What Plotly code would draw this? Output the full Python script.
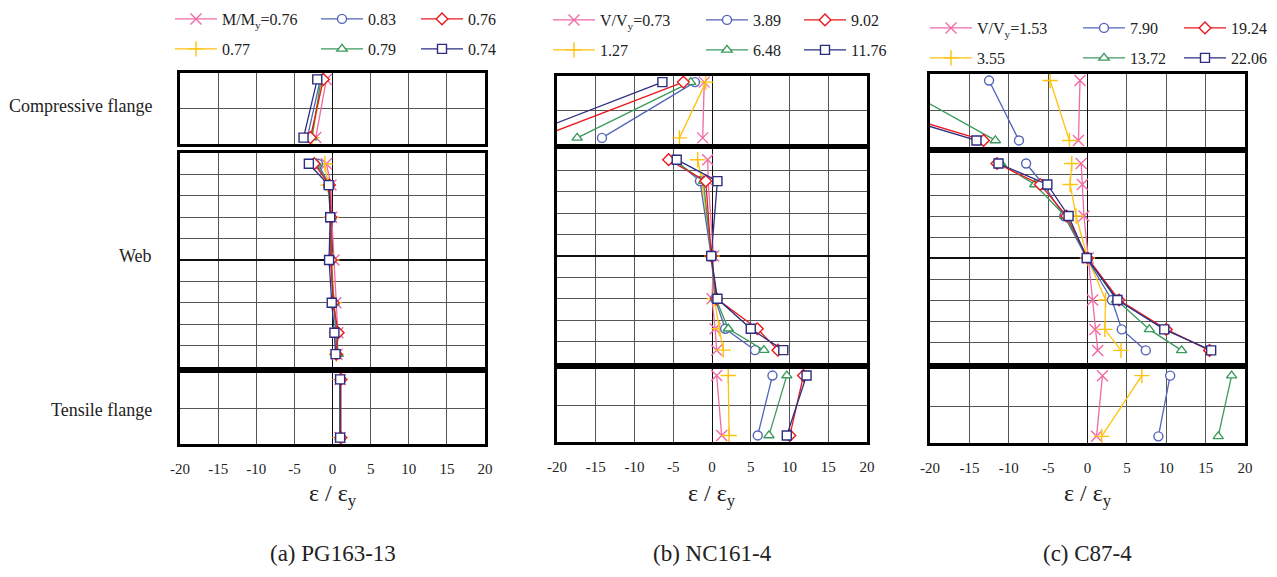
import plotly.graph_objects as go

# ---------------- data ----------------
WEB_Y = [4.5, 3.5, 2, 0, -2, -3.4, -4.4]
FLANGE_Y = [1.82, 0.18]

COLORS = ["#F06AA6", "#FFC20E", "#5264B8", "#3A9A5C", "#E8191E", "#2B2D80"]
SYMBOLS = ["x-thin", "cross-thin", "circle", "triangle-up", "diamond", "square"]

# panel (a) PG163-13
A_LABELS = ["M/M<sub>y</sub>=0.76", "0.77", "0.83", "0.79", "0.76", "0.74"]
A_COMP = [[-0.8, -2.2], [-1.3, -2.7], [-1.6, -3.3], [-1.5, -2.7], [-1.2, -2.9], [-2.0, -3.8]]
A_WEB = [[-0.8, -0.2, -0.1, 0.2, 0.45, 0.7, 0.6],
         [-1.0, -0.6, -0.2, -0.1, 0.2, 0.5, 0.5],
         [-1.9, -0.4, -0.2, -0.2, 0.1, 0.5, 0.5],
         [-2.1, -0.5, -0.2, -0.2, 0.2, 0.55, 0.75],
         [-2.4, -0.4, -0.2, -0.2, 0.1, 0.75, 0.5],
         [-3.1, -0.5, -0.3, -0.45, -0.1, 0.25, 0.4]]
A_TENS = [[1.0, 1.0], [1.0, 1.0], [1.0, 1.0], [1.0, 1.0], [1.1, 1.1], [1.0, 1.0]]

# panel (b) NC161-4
B_LABELS = ["V/V<sub>y</sub>=0.73", "1.27", "3.89", "6.48", "9.02", "11.76"]
B_COMP = [[-1.0, -1.2], [-0.8, -4.2], [-2.2, -14.2], [-2.75, -17.4], [-3.7, -22.5], [-6.4, -25.0]]
B_WEB = [[-0.55, -0.5, None, 0.2, 0.0, 0.4, 0.6],
         [-1.85, -1.3, None, 0.0, 0.3, 0.95, 1.45],
         [-4.8, -1.55, None, -0.1, 0.4, 1.7, 5.55],
         [-5.0, -1.1, None, -0.1, 0.5, 2.1, 6.7],
         [-5.6, -0.8, None, -0.1, 0.6, 5.85, 8.5],
         [-4.55, 0.7, None, -0.1, 0.7, 5.0, 9.2]]
B_TENS = [[0.6, 1.25], [2.1, 2.2], [7.8, 5.9], [9.65, 7.35], [11.8, 10.05], [12.2, 9.65]]

# panel (c) C87-4
C_LABELS = ["V/V<sub>y</sub>=1.53", "3.55", "7.90", "13.72", "19.24", "22.06"]
C_COMP = [[-0.95, -1.15], [-4.75, -2.3], [-12.5, -8.7], [-25.3, -11.7], [-38.4, -13.2], [-39.4, -14.1]]
C_WEB = [[-0.8, -0.65, -0.45, 0.1, 0.65, 0.95, 1.3],
         [-2.0, -2.2, -1.45, 0.0, 2.3, 2.2, 4.25],
         [-7.8, -5.6, -2.95, -0.1, 3.1, 4.35, 7.4],
         [-11.0, -6.7, -2.85, 0.0, 3.7, 7.85, 11.95],
         [-11.5, -6.0, -2.65, 0.0, 4.0, 10.0, 15.5],
         [-11.3, -5.1, -2.4, -0.1, 3.8, 9.75, 15.7]]
C_TENS = [[1.9, 1.15], [6.9, 1.8], [10.5, 9.0], [18.3, 16.6], [None, None], [None, None]]

PANEL_TITLES = ["(a) PG163-13", "(b) NC161-4", "(c) C87-4"]
ROW_LABELS = ["Compressive flange", "Web", "Tensile flange"]
X_TICKS = [-20, -15, -10, -5, 0, 5, 10, 15, 20]

# ---------------- layout geometry (pixels of the page) ----------------
W, H = 1277, 577
OFF = 8  # page body margin
FONT = "Liberation Serif"
GRID = "#555555"


def fx(px):
    return (px - OFF) / W


def fy(py):
    return 1 - (py - OFF) / H


panels = [
    dict(x=(180, 485), parts=[(73, 144), (153, 367), (373, 444)],
         leg_x=[222, 368, 468], leg_y=[19, 49],
         labels=A_LABELS, data=[A_COMP, A_WEB, A_TENS]),
    dict(x=(557, 867), parts=[(76, 144), (149, 363), (369, 442)],
         leg_x=[600, 753, 851], leg_y=[20, 50],
         labels=B_LABELS, data=[B_COMP, B_WEB, B_TENS]),
    dict(x=(930, 1245), parts=[(74, 147), (153, 363), (369, 443)],
         leg_x=[977, 1130, 1231], leg_y=[28, 58],
         labels=C_LABELS, data=[C_COMP, C_WEB, C_TENS]),
]
# legend grid slot for each series (col,row): pink,yellow,blue,green,red,navy
SLOTS = [(0, 0), (0, 1), (1, 0), (1, 1), (2, 0), (2, 1)]

fig = go.Figure()
layout = dict(width=W, height=H,
              margin=dict(l=0, r=0, t=0, b=0, autoexpand=False),
              paper_bgcolor="white", plot_bgcolor="white",
              font=dict(family=FONT, color="black"), annotations=[])

leg_count = 0
for p, pan in enumerate(panels):
    x0, x1 = pan["x"]
    for part in range(3):
        k = p * 3 + part + 1
        ytop, ybot = pan["parts"][part]
        xa = "xaxis" if k == 1 else f"xaxis{k}"
        ya = "yaxis" if k == 1 else f"yaxis{k}"
        is_bottom = part == 2
        layout[xa] = dict(
            domain=[fx(x0), fx(x1)], anchor=f"y{k}" if k > 1 else "y",
            range=[-20, 20], tickvals=X_TICKS, ticktext=[str(v) for v in X_TICKS],
            showgrid=True, gridcolor=GRID, gridwidth=1.3,
            zeroline=True, zerolinecolor="#111", zerolinewidth=1.3,
            showline=True, mirror=True, linecolor="black", linewidth=3,
            showticklabels=is_bottom, ticks="outside" if is_bottom else "",
            ticklen=9, tickcolor="rgba(0,0,0,0)",
            tickfont=dict(family=FONT, size=15, color="#222"), fixedrange=True)
        if part == 1:
            yr, yt = [-5, 5], list(range(-4, 5))
        else:
            yr, yt = [0, 2], [1]
        layout[ya] = dict(
            domain=[fy(ybot), fy(ytop)], anchor=f"x{k}" if k > 1 else "x",
            range=yr, tickvals=yt, showgrid=True, gridcolor=GRID, gridwidth=1.3,
            zeroline=(part == 1), zerolinecolor="#111", zerolinewidth=1.6,
            showline=True, mirror=True, linecolor="black", linewidth=3,
            showticklabels=False, ticks="", fixedrange=True)

        ys = WEB_Y if part == 1 else FLANGE_Y
        for s in range(6):
            xs = pan["data"][part][s]
            show = part == 1
            tr = dict(
                x=xs, y=ys, mode="lines+markers", connectgaps=True,
                xaxis=f"x{k}" if k > 1 else "x", yaxis=f"y{k}" if k > 1 else "y",
                name=pan["labels"][s], showlegend=show, cliponaxis=False,
                line=dict(color=COLORS[s], width=1.3),
                marker=dict(symbol=SYMBOLS[s], size=9 if s > 1 else 11,
                            color="white" if s > 1 else COLORS[s],
                            line=dict(color=COLORS[s], width=1.4)),
            )
            if show:
                leg_count += 1
                lname = "legend" if leg_count == 1 else f"legend{leg_count}"
                tr["legend"] = lname
                col, row = SLOTS[s]
                layout[lname] = dict(
                    x=fx(pan["leg_x"][col] - 52), y=fy(pan["leg_y"][row]),
                    xanchor="left", yanchor="middle", bgcolor="rgba(0,0,0,0)",
                    borderwidth=0, itemwidth=42,
                    font=dict(family=FONT, size=16, color="#222"),
                    itemclick=False, itemdoubleclick=False)
            fig.add_trace(go.Scatter(**tr))

    cx = fx((x0 + x1) / 2)
    layout["annotations"].append(dict(
        text="ε / ε<sub>y</sub>", x=cx, y=fy(495), xref="paper", yref="paper",
        xanchor="center", yanchor="middle",
        showarrow=False, font=dict(family=FONT, size=24, color="#222")))
    layout["annotations"].append(dict(
        text=PANEL_TITLES[p], x=cx, y=fy(553), xref="paper", yref="paper",
        xanchor="center", yanchor="middle",
        showarrow=False, font=dict(family=FONT, size=23, color="#222")))

for lbl, (lx, ly) in zip(ROW_LABELS, [(80, 106), (135, 256), (101, 410)]):
    layout["annotations"].append(dict(
        text=lbl, x=fx(lx), y=fy(ly), xref="paper", yref="paper",
        xanchor="center", yanchor="middle",
        showarrow=False, font=dict(family=FONT, size=18, color="#222")))

fig.update_layout(**layout)
fig.write_html("out.html")
